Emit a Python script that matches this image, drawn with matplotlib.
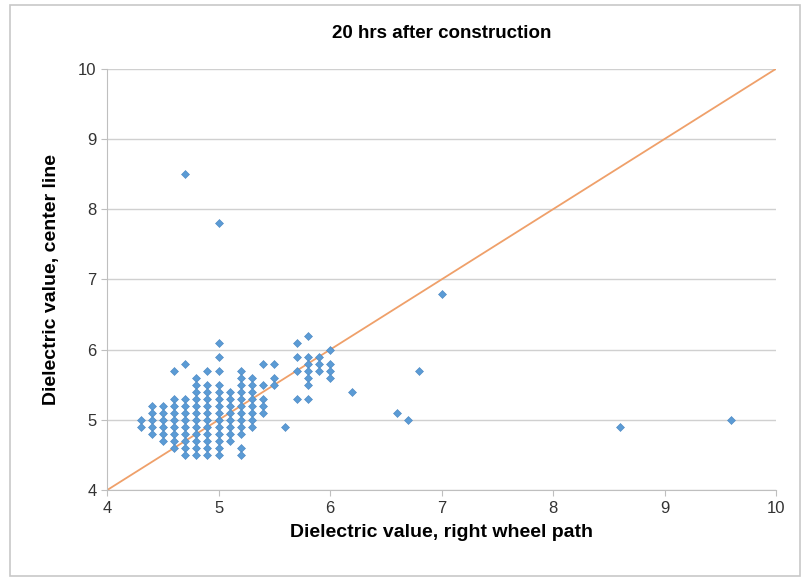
import matplotlib
matplotlib.use("Agg")
import matplotlib.pyplot as plt
from matplotlib.patches import Rectangle

plt.rcParams["font.family"] = ["Liberation Sans", "DejaVu Sans"]

# dielectric readings grouped by right-wheel-path value (one list of center-line values each)
rwp_values = [4.3, 4.4, 4.5, 4.6, 4.7, 4.8, 4.9, 5.0, 5.1, 5.2, 5.3, 5.4, 5.5, 5.6, 5.7, 5.8, 5.9, 6.0,
              6.2, 6.6, 6.7, 6.8, 7.0, 8.6, 9.6]
cl_values = [
    [5.0, 4.9],
    [5.2, 5.1, 5.0, 4.9, 4.8],
    [5.2, 5.1, 5.0, 4.9, 4.8, 4.7],
    [5.7, 5.3, 5.2, 5.1, 5.0, 4.9, 4.8, 4.7, 4.6],
    [8.5, 5.8, 5.3, 5.2, 5.1, 5.0, 4.9, 4.8, 4.7, 4.6, 4.5],
    [5.6, 5.5, 5.4, 5.3, 5.2, 5.1, 5.0, 4.9, 4.8, 4.7, 4.6, 4.5],
    [5.7, 5.5, 5.4, 5.3, 5.2, 5.1, 5.0, 4.9, 4.8, 4.7, 4.6, 4.5],
    [7.8, 6.1, 5.9, 5.7, 5.5, 5.4, 5.3, 5.2, 5.1, 5.0, 4.9, 4.8, 4.7, 4.6, 4.5],
    [5.4, 5.3, 5.2, 5.1, 5.0, 4.9, 4.8, 4.7],
    [5.7, 5.6, 5.5, 5.4, 5.3, 5.2, 5.1, 5.0, 4.9, 4.8, 4.6, 4.5],
    [5.6, 5.5, 5.4, 5.3, 5.2, 5.1, 5.0, 4.9],
    [5.8, 5.5, 5.3, 5.2, 5.1],
    [5.8, 5.6, 5.5],
    [4.9],
    [6.1, 5.9, 5.7, 5.3],
    [6.2, 5.9, 5.8, 5.7, 5.6, 5.5, 5.3],
    [5.9, 5.8, 5.7],
    [6.0, 5.8, 5.7, 5.6],
    [5.4],
    [5.1],
    [5.0],
    [5.7],
    [6.8],
    [4.9],
    [5.0],
]
line_of_equality = [4, 10]

xs, ys = [], []
for xv, col in zip(rwp_values, cl_values):
    xs.extend([xv] * len(col))
    ys.extend(col)

fig = plt.figure(figsize=(8.05, 5.78), dpi=100)
ax = fig.add_axes([0.133, 0.152, 0.831, 0.729])

ax.plot(line_of_equality, line_of_equality, color="#EFA06A", lw=1.3, zorder=2)
ax.plot(xs, ys, ls="none", marker="D", ms=4.5, color="#5B9BD5", mec="#4A86C0", mew=0.4, zorder=3)

ax.set_xlim(4, 10)
ax.set_ylim(4, 10)
ax.set_xticks(range(4, 11))
ax.set_yticks(range(4, 11))
ax.yaxis.grid(True, color="#D0D0D0", lw=1.0)
ax.set_axisbelow(True)
for side in ("top", "right"):
    ax.spines[side].set_visible(False)
ax.spines["left"].set_color("#BFBFBF")
ax.spines["bottom"].set_color("#BFBFBF")
ax.tick_params(axis="x", length=4, color="#BFBFBF", labelsize=12, labelcolor="#333333")
ax.tick_params(axis="y", length=4, color="#BFBFBF", labelsize=12, labelcolor="#333333")

ax.set_title("20 hrs after construction", fontsize=13.5, fontweight="bold", pad=22)
ax.set_xlabel("Dielectric value, right wheel path", fontsize=14, fontweight="bold", labelpad=6)
ax.set_ylabel("Dielectric value, center line", fontsize=14, fontweight="bold", labelpad=13)

# chart frame
fig.patches.append(Rectangle((0.012, 0.004), 0.982, 0.988, transform=fig.transFigure,
                             fill=False, edgecolor="#C8C8C8", lw=1.2))

fig.savefig("out.png", dpi=100)
